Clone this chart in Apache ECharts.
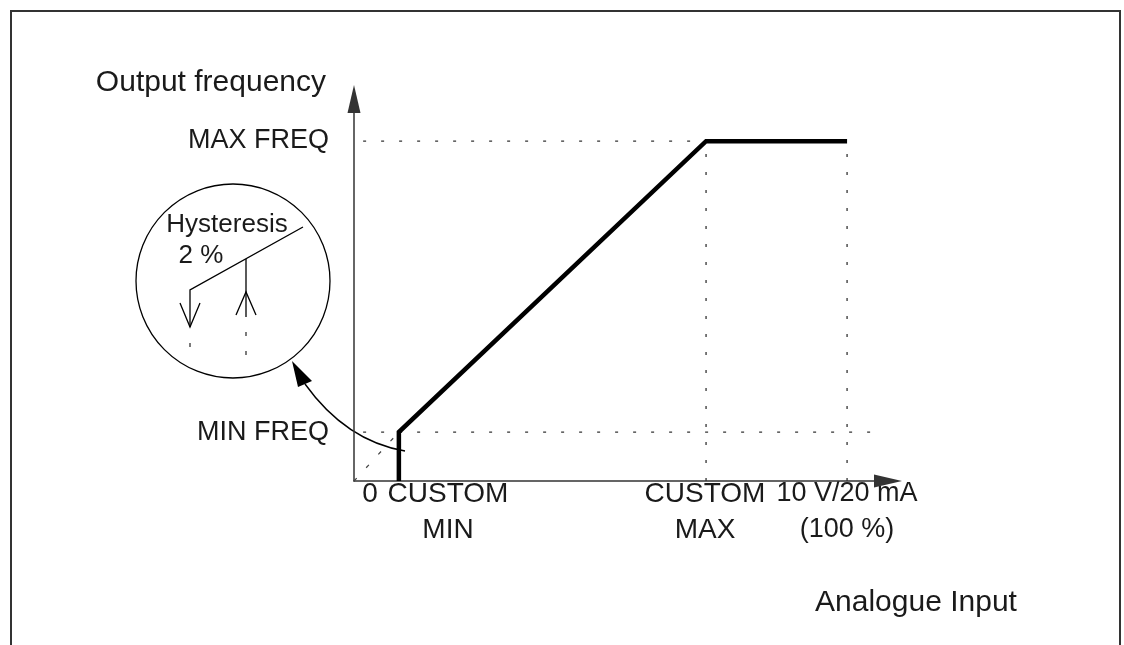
<!DOCTYPE html>
<html>
<head>
<meta charset="utf-8">
<script src="https://cdn.jsdelivr.net/npm/echarts@6/dist/echarts.min.js"></script>
<style>
html, body { margin: 0; padding: 0; background: #fff; }
#main { width: 1124px; height: 645px; }
</style>
</head>
<body>
<div id="main"></div>
<script>
// input in % of 10 V / 20 mA, output in % of MAX FREQ
var inputPct = [9.1, 9.1, 71.4, 100];
var outputPct = [0, 14.4, 100, 100];
var minFreq = 14.4;
var maxFreq = 100;
var customMin = 9.1;
var customMax = 71.4;
var fullScale = 100;
var xTickLabels = ['0', 'CUSTOM\nMIN', 'CUSTOM\nMAX', '10 V/20 mA\n(100 %)'];
var yTickLabels = ['MIN FREQ', 'MAX FREQ'];

var FONT = "'Liberation Sans', Arial, Helvetica, sans-serif";
var INK = '#1a1a1a';

var myChart = echarts.init(document.getElementById('main'));

var curve = inputPct.map(function (x, i) { return [x, outputPct[i]]; });

var dotted = { color: '#333', width: 1.3, type: [3, 15] };

function guide(points) {
    return {
        type: 'line', data: points, clip: false, silent: true,
        symbol: 'none', lineStyle: dotted, z: 1
    };
}

function label(text, x, y, size, align) {
    return {
        type: 'text', x: x, y: y, silent: true,
        style: { text: text, fontSize: size, lineHeight: 36, fontFamily: FONT, fill: INK, align: align || 'center', verticalAlign: 'middle' }
    };
}

var option = {
    animation: false,
    backgroundColor: '#fff',
    grid: { left: 354, top: 99, right: 236, bottom: 164 },
    xAxis: {
        type: 'value', min: 0, max: 108.3,
        splitLine: { show: false }, axisTick: { show: false }, axisLabel: { show: false },
        axisLine: { symbol: ['none', 'triangle'], symbolSize: [13, 28], lineStyle: { color: '#333', width: 1.5 } }
    },
    yAxis: {
        type: 'value', min: 0, max: 112.4,
        splitLine: { show: false }, axisTick: { show: false }, axisLabel: { show: false },
        axisLine: { symbol: ['none', 'triangle'], symbolSize: [13, 28], lineStyle: { color: '#333', width: 1.5 } }
    },
    series: [
        guide([[-1.8, maxFreq], [fullScale, maxFreq]]),
        guide([[-1.8, minFreq], [106.7, minFreq]]),
        guide([[customMax, 0], [customMax, maxFreq]]),
        guide([[fullScale, 0], [fullScale, maxFreq]]),
        {
            type: 'line', data: [[0, 0], [customMin, minFreq]], silent: true, clip: false,
            symbol: 'none', lineStyle: { color: '#444', width: 1.2, type: [4, 14] }, z: 1
        },
        {
            type: 'line', data: curve, symbol: 'none', silent: true, clip: false,
            lineStyle: { color: '#000', width: 4.5, cap: 'butt', join: 'miter' }, z: 3
        }
    ],
    graphic: [
        { type: 'rect', shape: { x: 11, y: 11, width: 1109, height: 700 }, style: { fill: 'none', stroke: '#333', lineWidth: 2 }, silent: true },
        label('Output frequency', 326, 83, 30, 'right'),
        label(yTickLabels[1], 329, 141, 27, 'right'),
        label(yTickLabels[0], 329, 433, 27, 'right'),
        label(xTickLabels[0], 370, 494, 28),
        label(xTickLabels[1], 448, 512, 28),
        label(xTickLabels[2], 705, 512, 28),
        label(xTickLabels[3], 847, 512, 27),
        label('Analogue Input', 916, 603, 30),
        // hysteresis inset
        { type: 'circle', shape: { cx: 233, cy: 281, r: 97 }, style: { fill: 'none', stroke: '#000', lineWidth: 1.3 }, silent: true },
        label('Hysteresis', 227, 225, 26),
        label('2 %', 201, 256, 26),
        { type: 'polyline', shape: { points: [[303, 227], [190, 290], [190, 327]] }, style: { fill: 'none', stroke: '#000', lineWidth: 1.3 }, silent: true },
        { type: 'polyline', shape: { points: [[180, 303], [190, 327], [200, 303]] }, style: { fill: 'none', stroke: '#000', lineWidth: 1.3 }, silent: true },
        { type: 'line', shape: { x1: 246, y1: 259, x2: 246, y2: 317 }, style: { stroke: '#000', lineWidth: 1.3 }, silent: true },
        { type: 'polyline', shape: { points: [[236, 315], [246, 292], [256, 315]] }, style: { fill: 'none', stroke: '#000', lineWidth: 1.3 }, silent: true },
        { type: 'line', shape: { x1: 190, y1: 343, x2: 190, y2: 347 }, style: { stroke: '#333', lineWidth: 1.3 }, silent: true },
        { type: 'line', shape: { x1: 246, y1: 332, x2: 246, y2: 336 }, style: { stroke: '#333', lineWidth: 1.3 }, silent: true },
        { type: 'line', shape: { x1: 246, y1: 351, x2: 246, y2: 355 }, style: { stroke: '#333', lineWidth: 1.3 }, silent: true },
        // curved pointer to the inset
        { type: 'bezierCurve', shape: { x1: 405, y1: 451, cpx1: 346, cpy1: 441, x2: 305, y2: 384 }, style: { fill: 'none', stroke: '#000', lineWidth: 1.4 }, silent: true },
        { type: 'polygon', shape: { points: [[292, 361], [298, 387], [312, 381]] }, style: { fill: '#000' }, silent: true }
    ]
};

myChart.setOption(option);
</script>
</body>
</html>
